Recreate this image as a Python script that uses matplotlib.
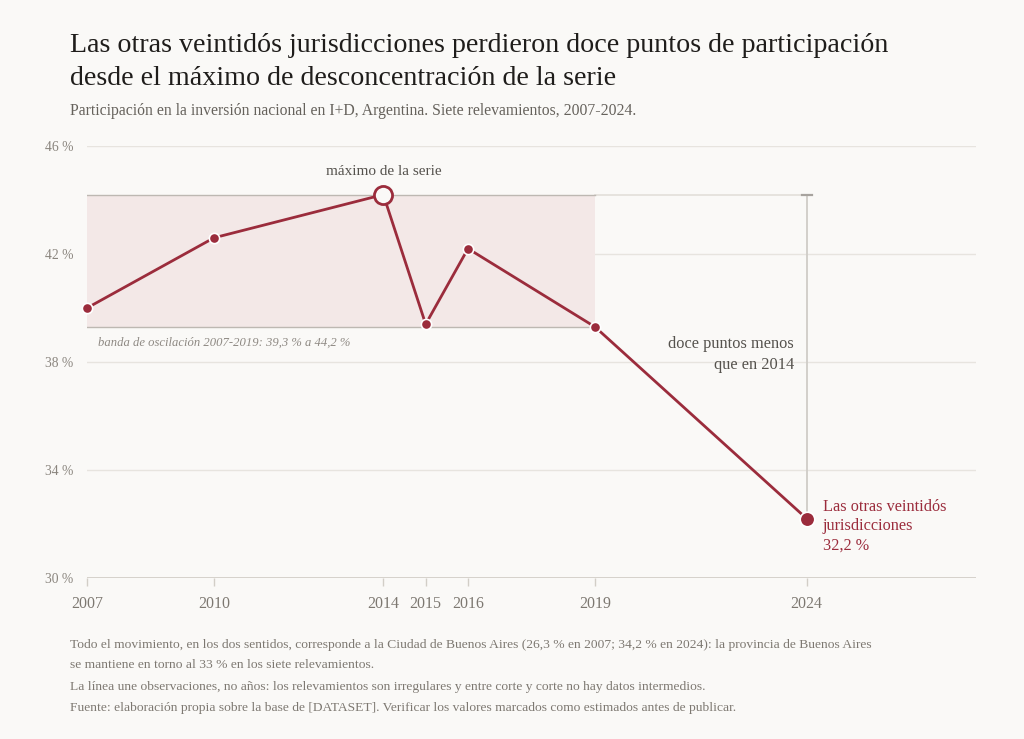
import matplotlib
matplotlib.use("Agg")
import matplotlib.pyplot as plt

# ---- data ----
years = [2007, 2010, 2014, 2015, 2016, 2019, 2024]
share = [40.0, 42.6, 44.2, 39.4, 42.2, 39.3, 32.2]
band_low, band_high = 39.3, 44.2
band_start, band_end = 2007, 2019
yticks = [30, 34, 38, 42, 46]
ytick_labels = ["30 %", "34 %", "38 %", "42 %", "46 %"]
xtick_labels = [str(y) for y in years]

title_lines = ["Las otras veintidós jurisdicciones perdieron doce puntos de participación",
               "desde el máximo de desconcentración de la serie"]
subtitle = "Participación en la inversión nacional en I+D, Argentina. Siete relevamientos, 2007-2024."
notes = [
    "Todo el movimiento, en los dos sentidos, corresponde a la Ciudad de Buenos Aires (26,3 % en 2007; 34,2 % en 2024): la provincia de Buenos Aires",
    "se mantiene en torno al 33 % en los siete relevamientos.",
    "La línea une observaciones, no años: los relevamientos son irregulares y entre corte y corte no hay datos intermedios.",
    "Fuente: elaboración propia sobre la base de [DATASET]. Verificar los valores marcados como estimados antes de publicar.",
]
end_label = ["Las otras veintidós", "jurisdicciones", "32,2 %"]
gap_label = ["doce puntos menos", "que en 2014"]

# ---- style ----
BG = "#faf9f7"
RED = "#9b2c3c"
GRID = "#e7e4df"
AXIS = "#d2cec7"
TXT = "#8a857e"
FONT = ["Liberation Serif", "DejaVu Serif"]
plt.rcParams["font.family"] = FONT

W, H = 1024, 739
fig = plt.figure(figsize=(W / 100, H / 100), dpi=100, facecolor=BG)

L, R = 87, 976
T, B = 146, 578
ax = fig.add_axes([L / W, 1 - B / H, (R - L) / W, (B - T) / H], facecolor=BG)
ax.set_xlim(2007, 2028)
ax.set_ylim(30, 46)
for s in ax.spines.values():
    s.set_visible(False)

# grid
for v in yticks[1:]:
    ax.axhline(v, color=GRID, lw=1, zorder=0)
ax.axhline(30, color=AXIS, lw=2, zorder=1)

# band
ax.fill_between([band_start, band_end], band_low, band_high, color="#f3e8e7", lw=0, zorder=1)
ax.plot([band_end, years[-1]], [band_high, band_high], color="#e2dfda", lw=1.2, zorder=1)
ax.plot([band_start, band_end], [band_high, band_high], color="#bdb8b2", lw=1, zorder=2)
ax.plot([band_start, band_end], [band_low, band_low], color="#bdb8b2", lw=1, zorder=2)

# bracket at 2024
ax.plot([years[-1], years[-1]], [band_high, share[-1]], color="#cfccc7", lw=1.3, zorder=2)
ax.plot([years[-1] - 0.12, years[-1] + 0.12], [band_high, band_high], color="#a7a39e", lw=1.6, zorder=3)

# line
ax.plot(years, share, color=RED, lw=2, zorder=4)
ax.scatter(years[:-1], share[:-1], s=55, color=RED, edgecolor="white", linewidth=1.2, zorder=5, clip_on=False)
ax.scatter([years[2]], [share[2]], s=170, color=BG, edgecolor=RED, linewidth=2, zorder=6)
ax.scatter([years[-1]], [share[-1]], s=110, color=RED, edgecolor="white", linewidth=1.2, zorder=6)

# ticks
ax.set_yticks(yticks)
ax.set_yticklabels(ytick_labels)
ax.set_xticks(years)
ax.set_xticklabels(xtick_labels)
ax.tick_params(axis="y", length=0, pad=10, labelsize=9.8, labelcolor=TXT)
ax.tick_params(axis="x", length=6, width=1, color=AXIS, pad=7, labelsize=11.5, labelcolor="#7d7871")

# annotations
ax.text(2014, 45.05, "máximo de la serie", ha="center", va="center", fontsize=11, color="#55524d")
ax.text(2007.25, 38.7, "banda de oscilación 2007-2019: 39,3 % a 44,2 %", ha="left", va="center",
        fontsize=9.1, style="italic", color="#8e8983")
for yv, t in zip([38.67, 37.89], gap_label):
    ax.text(2023.7, yv, t, ha="right", va="center", fontsize=11.8, color="#55524d")
for yv, t in zip([32.63, 31.93, 31.19], end_label):
    ax.text(2024.38, yv, t, ha="left", va="center", fontsize=11.7, color=RED)

# titles
fig.text(70 / W, 1 - 52 / H, title_lines[0], ha="left", va="baseline", fontsize=20.2, color="#1f1d1b")
fig.text(70 / W, 1 - 85 / H, title_lines[1], ha="left", va="baseline", fontsize=20.2, color="#1f1d1b")
fig.text(70 / W, 1 - 115 / H, subtitle, ha="left", va="baseline", fontsize=11.35, color="#66625c")

ys = [648, 668, 690, 711]
for y, t in zip(ys, notes):
    fig.text(70 / W, 1 - y / H, t, ha="left", va="baseline", fontsize=9.7, color="#7d7871")

fig.savefig("out.png", dpi=100, facecolor=BG)
